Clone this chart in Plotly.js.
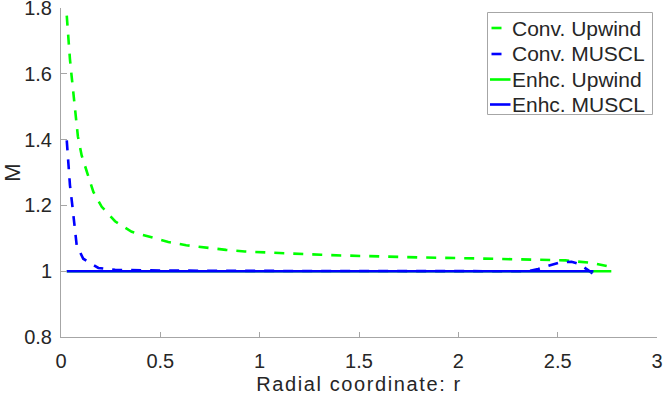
<!DOCTYPE html>
<html>
<head>
<meta charset="utf-8">
<script src="https://cdn.plot.ly/plotly-3.0.1.min.js"></script>
<style>
  html, body { margin: 0; padding: 0; background: #fff; }
  #chart { width: 664px; height: 395px; }
  .xtitle { letter-spacing: 1.6px; }
</style>
</head>
<body>
<div id="chart"></div>
<script>
// Conv. Upwind (dashed green)
const convUpwindR = [0.029, 0.037, 0.045, 0.054, 0.064, 0.074, 0.085, 0.104, 0.129, 0.163, 0.205, 0.272, 0.356, 0.456,
  0.54, 0.63, 0.73, 0.83, 0.925, 1.025, 1.116, 1.216, 1.31, 1.41, 1.6, 1.8, 2.0, 2.19, 2.37, 2.54, 2.675, 2.775];
const convUpwindM = [1.777, 1.706, 1.645, 1.590, 1.529, 1.474, 1.41, 1.352, 1.302, 1.241, 1.196, 1.152, 1.12, 1.102,
  1.089, 1.079, 1.071, 1.065, 1.060, 1.057, 1.054, 1.052, 1.050, 1.048, 1.044, 1.042, 1.040, 1.038, 1.036, 1.033, 1.025, 1.012];

// Conv. MUSCL (dashed blue)
const convMusclR = [0.029, 0.037, 0.045, 0.057, 0.070, 0.079, 0.112, 0.188, 0.272, 0.5, 1.0, 1.5, 2.0, 2.35, 2.402, 2.511, 2.570, 2.612, 2.679];
const convMusclM = [1.398, 1.322, 1.262, 1.20, 1.13, 1.079, 1.038, 1.010, 1.004, 1.002, 1.001, 1.0, 1.0, 1.0, 1.007, 1.027, 1.029, 1.021, 0.992];

// Enhc. Upwind (solid green)
const enhcUpwindR = [0.029, 0.5, 1.0, 1.5, 2.0, 2.5, 2.77];
const enhcUpwindM = [1, 1, 1, 1, 1, 1, 1];

// Enhc. MUSCL (solid blue)
const enhcMusclR = [0.029, 0.5, 1.0, 1.5, 2.0, 2.5, 2.68];
const enhcMusclM = [1, 1, 1, 1, 1, 1, 1];

const seriesNames = ['Conv. Upwind', 'Conv. MUSCL', 'Enhc. Upwind', 'Enhc. MUSCL'];
const xTicks = [0, 0.5, 1, 1.5, 2, 2.5, 3];
const yTicks = [0.8, 1, 1.2, 1.4, 1.6, 1.8];

const green = '#00ff00';
const blue = '#0000ff';
const dashPattern = '10px,9px';
const lineWidth = 2.6;

const seriesStyles = [
    { color: green, dashed: true },
    { color: blue, dashed: true },
    { color: green, dashed: false },
    { color: blue, dashed: false }
];

function makeTrace(x, y, i) {
    let style = seriesStyles[i];
    return {
        x: x,
        y: y,
        name: seriesNames[i],
        type: 'scatter',
        mode: 'lines',
        showlegend: false,
        line: { color: style.color, width: lineWidth, dash: style.dashed ? dashPattern : 'solid' }
    };
}

const traces = [
    makeTrace(convUpwindR, convUpwindM, 0),
    makeTrace(convMusclR, convMusclM, 1),
    makeTrace(enhcUpwindR, enhcUpwindM, 2),
    makeTrace(enhcMusclR, enhcMusclM, 3)
];

const axisGray = '#a6a6a6';
const textColor = '#262626';
const fontFamily = '"Liberation Sans", Arial, Helvetica, sans-serif';

// plot area in pixels, used to place the hand-made legend box
const margin = { l: 61, r: 7, t: 8, b: 58 };
const plotW = 664 - margin.l - margin.r;
const plotH = 395 - margin.t - margin.b;
const px = x => (x - margin.l) / plotW;
const py = y => 1 - (y - margin.t) / plotH;

// MATLAB-style legend: short sample lines, text close to them
const legendBox = { x0: 487.5, x1: 652.5, y0: 12.5, y1: 114.5 };
const legendRowsY = [28, 54, 79.5, 104.5];
const shapes = [{
    type: 'rect', xref: 'paper', yref: 'paper',
    x0: px(legendBox.x0), x1: px(legendBox.x1), y0: py(legendBox.y1), y1: py(legendBox.y0),
    line: { color: axisGray, width: 1 }, fillcolor: '#ffffff', layer: 'above'
}];
const annotations = [];
seriesNames.forEach((name, i) => {
    let style = seriesStyles[i];
    shapes.push({
        type: 'line', xref: 'paper', yref: 'paper',
        x0: px(style.dashed ? 491.5 : 490), x1: px(style.dashed ? 501.5 : 510.5),
        y0: py(legendRowsY[i]), y1: py(legendRowsY[i]),
        line: { color: style.color, width: lineWidth }, layer: 'above'
    });
    annotations.push({
        xref: 'paper', yref: 'paper',
        x: px(510), y: py(legendRowsY[i]),
        xanchor: 'left', yanchor: 'middle',
        text: name, showarrow: false,
        font: { family: fontFamily, size: 21, color: textColor }
    });
});

const layout = {
    width: 664,
    height: 395,
    margin: { l: margin.l, r: margin.r, t: margin.t, b: margin.b, pad: 0 },
    paper_bgcolor: '#ffffff',
    plot_bgcolor: '#ffffff',
    font: { family: fontFamily, color: textColor, size: 20 },
    showlegend: false,
    shapes: shapes,
    annotations: annotations,
    xaxis: {
        range: [0, 3],
        tickvals: xTicks,
        ticktext: xTicks.map(String),
        ticks: 'inside',
        ticklen: 5,
        tickcolor: axisGray,
        tickwidth: 1,
        showline: true,
        linecolor: axisGray,
        linewidth: 1,
        showgrid: false,
        zeroline: false,
        ticklabelstandoff: 6,
        ticklabeloverflow: 'allow',
        tickfont: { family: fontFamily, size: 20, color: textColor },
        title: { text: 'Radial coordinate: r', font: { family: fontFamily, size: 20, color: textColor }, standoff: 6 }
    },
    yaxis: {
        range: [0.8, 1.8004],
        tickvals: yTicks,
        ticktext: yTicks.map(String),
        ticks: 'inside',
        ticklen: 6,
        tickcolor: axisGray,
        tickwidth: 1,
        showline: true,
        linecolor: axisGray,
        linewidth: 1,
        showgrid: false,
        zeroline: false,
        ticklabelstandoff: 4,
        ticklabeloverflow: 'allow',
        tickfont: { family: fontFamily, size: 20, color: textColor },
        title: { text: 'M', font: { family: fontFamily, size: 22, color: textColor }, standoff: 6 }
    }
};

Plotly.newPlot('chart', traces, layout, { staticPlot: true, displayModeBar: false });
</script>
</body>
</html>
